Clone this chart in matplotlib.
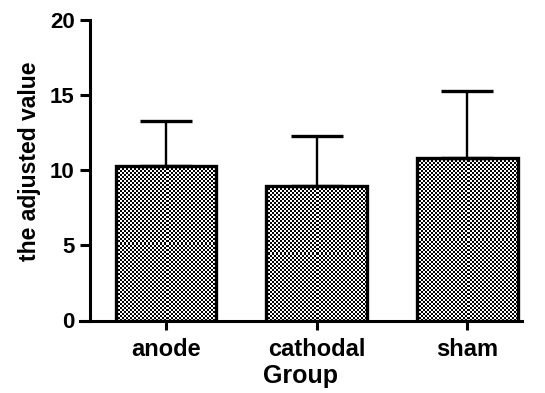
import numpy as np
import matplotlib
matplotlib.use("Agg")
import matplotlib.pyplot as plt

groups = ["anode", "cathodal", "sham"]
means = [10.3, 8.92, 10.82]
errors = [2.98, 3.33, 4.48]

plt.rcParams["font.family"] = ["Liberation Sans", "DejaVu Sans"]
plt.rcParams["font.weight"] = "bold"

fig = plt.figure(figsize=(5.45, 3.93), dpi=100)
ax = fig.add_axes([80 / 545, 1 - 320.5 / 393, 442 / 545, 300.5 / 393])

x = np.arange(len(groups))
bars = ax.bar(x, means, width=0.667, facecolor="none", edgecolor="black",
              linewidth=2.4, zorder=2)

ax.set_xlim(-0.57, 2.362)
ax.set_ylim(0, 20)

# checkerboard fill, one image per bar clipped to its rectangle
fig.canvas.draw()
for bar in bars:
    x0, y0 = bar.get_x(), bar.get_y()
    w, h = bar.get_width(), bar.get_height()
    p0 = ax.transData.transform((x0, y0))
    p1 = ax.transData.transform((x0 + w, y0 + h))
    nx = int(round((p1[0] - p0[0]) / 2))
    ny = int(round((p1[1] - p0[1]) / 2))
    board = (np.add.outer(np.arange(ny), np.arange(nx)) % 2).astype(float)
    im = ax.imshow(board, cmap="gray", vmin=0, vmax=1, interpolation="nearest",
                   extent=(x0, x0 + w, y0, y0 + h), aspect="auto", zorder=1)
    im.set_clip_path(bar)

ax.set_xlim(-0.57, 2.362)
ax.set_ylim(0, 20)

ax.errorbar(x, means, yerr=[np.zeros(len(means)), errors], fmt="none",
            ecolor="black", elinewidth=1.7, capsize=19, capthick=2.4, zorder=3)

ax.spines["top"].set_visible(False)
ax.spines["right"].set_visible(False)
ax.spines["left"].set_position(("data", -0.504))
ax.spines["left"].set_linewidth(2.2)
ax.spines["bottom"].set_linewidth(2.2)

ax.set_yticks([0, 5, 10, 15, 20])
ax.set_xticks(x)
ax.set_xticklabels(groups)
ax.tick_params(axis="y", length=7, width=2.2, labelsize=16, pad=4)
ax.tick_params(axis="x", length=6.5, width=2.2, labelsize=17, pad=6)

ax.set_xlabel("Group", fontsize=18, fontweight="bold", labelpad=2.5)
ax.set_ylabel("the adjusted value", fontsize=16.5, fontweight="bold")
ax.yaxis.set_label_coords(-0.088, 0.531)

fig.savefig("out.png", dpi=100)
